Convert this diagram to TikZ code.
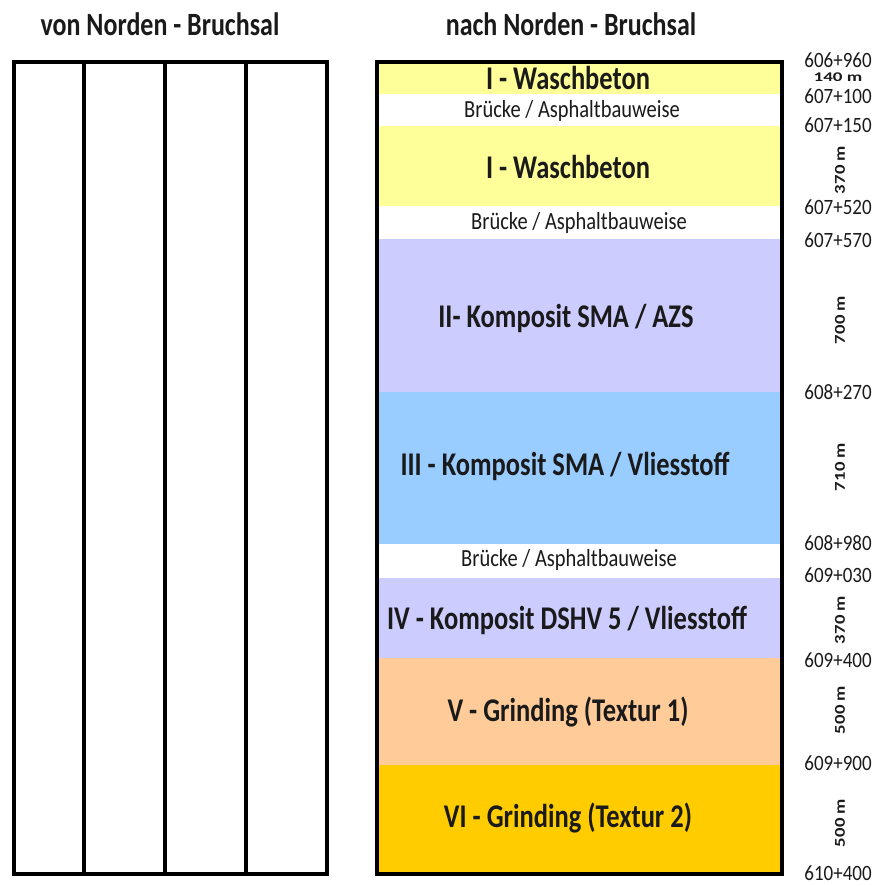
\documentclass[tikz,border=0pt]{standalone}
\usepackage{fontspec}
\setmainfont{Carlito}
\definecolor{cyel}{HTML}{FFFF99}
\definecolor{clav}{HTML}{CCCCFF}
\definecolor{cblu}{HTML}{99CCFF}
\definecolor{cpea}{HTML}{FFCC99}
\definecolor{cgol}{HTML}{FFCC00}
\definecolor{ctxt}{HTML}{1A1A1A}
\newcommand\vstretch[2]{\scalebox{1}[#1]{#2}}
\begin{document}
\begin{tikzpicture}[x=1pt,y=-1pt,
  frame/.style={line width=4pt,draw=black},
  divider/.style={line width=3.5pt,draw=black},
  title/.style={font=\fontsize{26}{28}\selectfont\bfseries,text=ctxt,inner sep=0pt},
  seg/.style={font=\fontsize{26.5}{28}\selectfont\bfseries,text=ctxt,inner sep=0pt},
  bridge/.style={font=\fontsize{20.5}{22}\selectfont,text=ctxt,inner sep=0pt},
  km/.style={font=\fontsize{19}{20}\selectfont,text=ctxt,inner sep=0pt},
  len/.style={font=\fontsize{15}{16}\selectfont\bfseries,text=ctxt,inner sep=0pt,rotate=90},
]
\useasboundingbox (0,0) rectangle (884,886);
% titles
\node[title] (t1) at (160,24) {\vstretch{1.25}{von Norden - Bruchsal}};
\node[title] (t2) at (571,24) {\vstretch{1.25}{nach Norden - Bruchsal}};
% left box
\draw[frame] (14,62) rectangle (327,874);
\draw[divider] (84,62) -- (84,874);
\draw[divider] (165,62) -- (165,874);
\draw[divider] (246,62) -- (246,874);
% right bands
\fill[cyel] (376.5,62) rectangle (782,94);
\fill[white] (376.5,94) rectangle (782,126);
\fill[cyel] (376.5,126) rectangle (782,206);
\fill[white] (376.5,206) rectangle (782,239);
\fill[clav] (376.5,239) rectangle (782,392);
\fill[cblu] (376.5,392) rectangle (782,544);
\fill[white] (376.5,544) rectangle (782,578);
\fill[clav] (376.5,578) rectangle (782,658);
\fill[cpea] (376.5,658) rectangle (782,765);
\fill[cgol] (376.5,765) rectangle (782,874);
\draw[frame] (376.5,62) rectangle (782,874);
% band labels
\node[seg] (s1) at (568,78) {\vstretch{1.25}{I - Waschbeton}};
\node[bridge] (b1) at (572,111) {\vstretch{1.2}{Brücke / Asphaltbauweise}};
\node[seg] (s2) at (568,167) {\vstretch{1.25}{I - Waschbeton}};
\node[bridge] (b2) at (579,223) {\vstretch{1.2}{Brücke / Asphaltbauweise}};
\node[seg] (s3) at (566,318) {\vstretch{1.25}{II- Komposit SMA / AZS}};
\node[seg] (s4) at (565,466) {\vstretch{1.25}{III - Komposit SMA / Vliesstoff}};
\node[bridge] (b3) at (569,560) {\vstretch{1.2}{Brücke / Asphaltbauweise}};
\node[seg] (s5) at (567,620) {\vstretch{1.25}{IV - Komposit DSHV 5 / Vliesstoff}};
\node[seg] (s6) at (568,712) {\vstretch{1.25}{V - Grinding (Textur 1)}};
\node[seg] (s7) at (568,818) {\vstretch{1.25}{VI - Grinding (Textur 2)}};
% chainage labels
\node[km] (k1) at (838,60) {\vstretch{1.15}{606+960}};
\node[font=\fontsize{19}{19}\selectfont\bfseries,text=ctxt,inner sep=0pt] (l1) at (838,77) {\vstretch{0.7}{140 m}};
\node[km] (k2) at (838,96) {\vstretch{1.15}{607+100}};
\node[km] (k3) at (838,125) {\vstretch{1.15}{607+150}};
\node[len] (l2) at (840,170) {\scalebox{1.25}[1]{370 m}};
\node[km] (k4) at (838,207) {\vstretch{1.15}{607+520}};
\node[km] (k5) at (838,240) {\vstretch{1.15}{607+570}};
\node[len] (l3) at (840,320) {\scalebox{1.25}[1]{700 m}};
\node[km] (k6) at (838,392) {\vstretch{1.15}{608+270}};
\node[len] (l4) at (840,467) {\scalebox{1.25}[1]{710 m}};
\node[km] (k7) at (838,543) {\vstretch{1.15}{608+980}};
\node[km] (k8) at (838,575) {\vstretch{1.15}{609+030}};
\node[len] (l5) at (840,620) {\scalebox{1.25}[1]{370 m}};
\node[km] (k9) at (838,660) {\vstretch{1.15}{609+400}};
\node[len] (l6) at (840,710) {\scalebox{1.25}[1]{500 m}};
\node[km] (k10) at (838,763) {\vstretch{1.15}{609+900}};
\node[len] (l7) at (840,823) {\scalebox{1.25}[1]{500 m}};
\node[km] (k11) at (838,873) {\vstretch{1.15}{610+400}};
\end{tikzpicture}
\end{document}
